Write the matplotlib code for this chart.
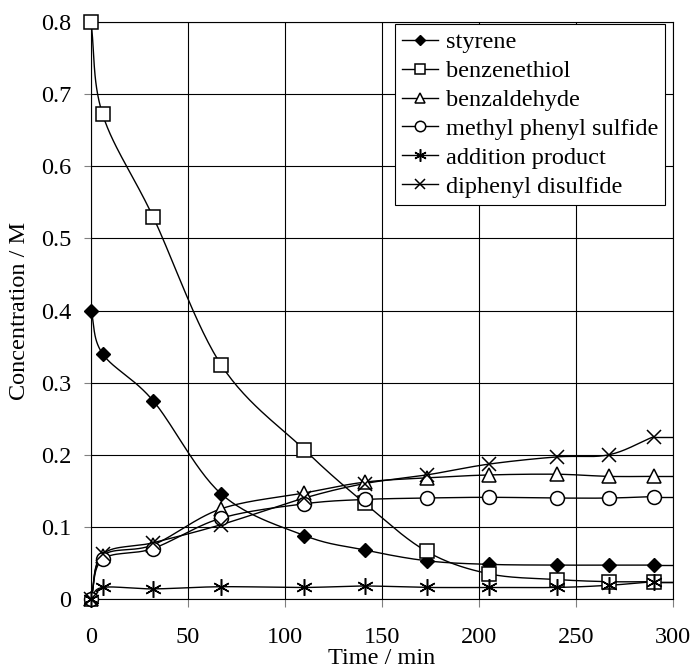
#!/usr/bin/env python3
"""
plot.py - concentration vs time for the styrene / benzenethiol reaction
"""

import numpy as np
import matplotlib
matplotlib.use("Agg")
from matplotlib import pyplot as plt

time_min = [0, 6, 32, 67, 110, 141, 173, 205, 240, 267, 290]

styrene = [0.400, 0.340, 0.275, 0.146, 0.088, 0.068, 0.053, 0.048, 0.047, 0.047, 0.047]
benzenethiol = [0.800, 0.672, 0.530, 0.325, 0.207, 0.133, 0.066, 0.035, 0.027, 0.024, 0.024]
benzaldehyde = [0.000, 0.060, 0.075, 0.125, 0.147, 0.162, 0.168, 0.172, 0.173, 0.170, 0.170]
methyl_phenyl_sulfide = [0.000, 0.055, 0.070, 0.112, 0.132, 0.138, 0.140, 0.141, 0.140, 0.140, 0.142]
addition_product = [0.000, 0.016, 0.014, 0.017, 0.016, 0.018, 0.016, 0.016, 0.016, 0.019, 0.024]
diphenyl_disulfide = [0.000, 0.062, 0.078, 0.103, 0.140, 0.160, 0.172, 0.187, 0.197, 0.200, 0.225]

labels = ["styrene", "benzenethiol", "benzaldehyde", "methyl phenyl sulfide",
          "addition product", "diphenyl disulfide"]

X_END = 300


def smooth(x, y, n=30):
    """Catmull-Rom curve through the points, like Excel's smoothed line."""
    x = np.asarray(x, float)
    y = np.asarray(y, float)
    px = np.concatenate([[2 * x[0] - x[1]], x, [2 * x[-1] - x[-2]]])
    py = np.concatenate([[2 * y[0] - y[1]], y, [2 * y[-1] - y[-2]]])
    t = np.linspace(0, 1, n)
    xs, ys = [], []
    for i in range(1, len(px) - 2):
        for p, out in ((px, xs), (py, ys)):
            p0, p1, p2, p3 = p[i - 1], p[i], p[i + 1], p[i + 2]
            out.append(0.5 * ((2 * p1) + (-p0 + p2) * t
                              + (2 * p0 - 5 * p1 + 4 * p2 - p3) * t ** 2
                              + (-p0 + 3 * p1 - 3 * p2 + p3) * t ** 3))
    return np.concatenate(xs), np.concatenate(ys)


def main():
    plt.rcParams["font.family"] = ["Liberation Serif", "DejaVu Serif"]
    plt.rcParams["font.size"] = 17.5

    fig = plt.figure(figsize=(6.92, 6.70), dpi=100)
    ax = fig.add_axes([0.1315, 0.106, 0.841, 0.861])

    series = [styrene, benzenethiol, benzaldehyde, methyl_phenyl_sulfide,
              addition_product, diphenyl_disulfide]
    styles = [
        dict(marker="D", ms=7, mfc="black", mec="black"),
        dict(marker="s", ms=10, mfc="white", mec="black", mew=1.1),
        dict(marker="^", ms=10, mfc="white", mec="black", mew=1.1),
        dict(marker="o", ms=10, mfc="white", mec="black", mew=1.1),
        dict(marker=(6, 2, 0), ms=12, mfc="none", mec="black", mew=1.1),
        dict(marker="x", ms=10, mfc="none", mec="black", mew=1.1),
    ]

    for vals, lab, st in zip(series, labels, styles):
        xs, ys = smooth(time_min, vals)
        ax.plot(xs, ys, color="black", lw=1.0, zorder=2)
        ax.plot([time_min[-1], X_END], [vals[-1], vals[-1]],
                color="black", lw=1.0, zorder=2)
        ax.plot(time_min, vals, ls="none", zorder=3, clip_on=False, **st)
        ax.plot([], [], color="black", lw=1.0, label=lab, **st)

    ax.set_xlim(0, 300)
    ax.set_ylim(0, 0.8)
    ax.set_xticks(np.arange(0, 301, 50))
    ax.set_yticks(np.arange(0, 0.81, 0.1))
    ax.set_yticklabels(["0"] + ["%.1f" % v for v in np.arange(0.1, 0.81, 0.1)])
    ax.grid(True, color="black", lw=0.8)
    ax.tick_params(axis="y", length=5, width=0.8, color="0.5", pad=9)
    ax.tick_params(axis="x", length=6, width=0.8, color="0.5", pad=14)
    for sp in ax.spines.values():
        sp.set_linewidth(0.8)

    ax.set_xlabel("Time / min", labelpad=0)
    ax.set_ylabel("Concentration / M", labelpad=8)

    leg = ax.legend(loc="upper right", bbox_to_anchor=(0.987, 0.9965),
                    borderaxespad=0, fancybox=False, framealpha=1,
                    edgecolor="black", handlelength=1.5, handletextpad=0.3,
                    labelspacing=0.28, borderpad=0.3, markerscale=0.75)
    leg.get_frame().set_linewidth(0.8)

    fig.savefig("out.png", dpi=100)


if __name__ == "__main__":
    main()
